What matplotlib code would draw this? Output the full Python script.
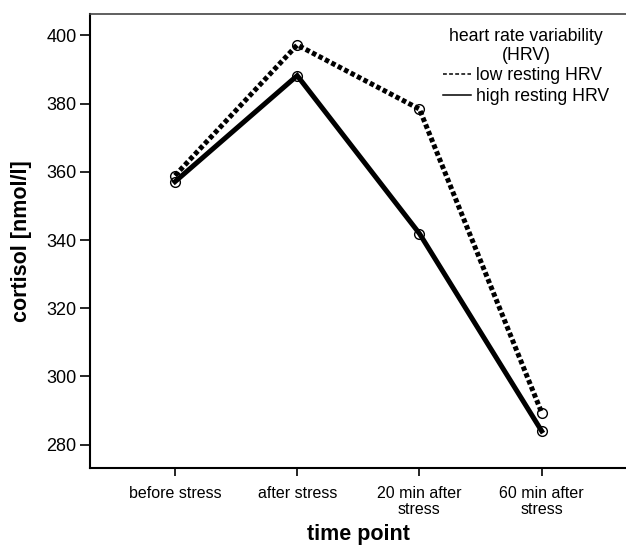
import numpy as np
import matplotlib
matplotlib.use("Agg")
import matplotlib.pyplot as plt
from matplotlib.lines import Line2D

plt.rcParams["font.family"] = ["Liberation Sans", "DejaVu Sans"]

time_points = ["before stress", "after stress", "20 min after\nstress", "60 min after\nstress"]
low_hrv = [358.9, 397.2, 378.4, 289.4]
high_hrv = [357.1, 388.2, 341.9, 284.0]
y_ticks = [280, 300, 320, 340, 360, 380, 400]

fig = plt.figure(figsize=(6.26, 5.45), dpi=100)
ax = fig.add_axes([0.1444, 0.1422, 0.8556, 0.8323])

x = np.arange(len(time_points))

ax.plot(x, low_hrv, color="black", lw=3.6, dashes=(0.9, 0.55),
        solid_joinstyle="miter", dash_joinstyle="miter", dash_capstyle="butt",
        marker="o", ms=7, mfc="none", mec="black", mew=1.0)
ax.plot(x, high_hrv, color="black", lw=3.6, solid_joinstyle="miter",
        marker="o", ms=7, mfc="none", mec="black", mew=1.0)

ax.set_xlim(-0.692, 3.69)
ax.set_ylim(273.3, 406.3)
ax.set_xticks(x)
ax.set_xticklabels(time_points, fontsize=11.5, linespacing=1.15)
ax.set_yticks(y_ticks)
ax.tick_params(axis="y", labelsize=13, length=7, width=1.2, pad=3)
ax.tick_params(axis="x", length=6, width=1.2, pad=7)

ax.set_xlabel("time point", fontsize=15.5, fontweight="bold", labelpad=5)
ax.set_ylabel("cortisol [nmol/l]", fontsize=15.5, fontweight="bold", labelpad=10)

ax.spines["right"].set_visible(False)
ax.spines["left"].set_linewidth(1.5)
ax.spines["bottom"].set_linewidth(1.5)
ax.spines["top"].set_linewidth(1.2)
ax.spines["top"].set_color("#444444")

handles = [Line2D([], [], color="black", lw=1.1, dashes=(2.5, 1.5)),
           Line2D([], [], color="black", lw=1.1)]
leg = fig.legend(handles, ["low resting HRV", "high resting HRV"],
                 title="heart rate variability\n(HRV)", title_fontsize=12.7,
                 fontsize=12.7, frameon=False, loc="upper center",
                 bbox_to_anchor=(526 / 626, 1 - 19 / 545),
                 handlelength=1.6, handletextpad=0.3, labelspacing=0.2,
                 borderpad=0.0)
leg.get_title().set_multialignment("center")
leg.get_title().set_linespacing(1.2)
leg._legend_box.sep = 2

fig.savefig("out.png", dpi=100)
